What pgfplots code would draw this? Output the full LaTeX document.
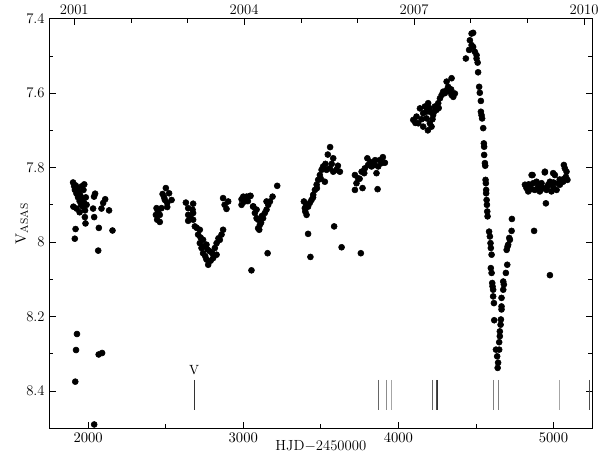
\documentclass[border=0pt]{standalone}
\usepackage{pgfplots}
\pgfplotsset{compat=1.18}
\usepackage{pgfplotstable}

% V light curve, HJD-2450000 vs V mag
\pgfplotstableread{
x y
1903 7.840
1910 7.850
1915 7.860
1920 7.848
1925 7.870
1930 7.855
1935 7.880
1940 7.865
1945 7.890
1950 7.875
1955 7.900
1960 7.885
1965 7.905
1970 7.860
1975 7.895
1980 7.915
1985 7.880
1990 7.900
1925 7.910
1945 7.920
1960 7.850
1975 7.845
1905 7.905
2032 7.910
2038 7.878
2045 7.870
2086 7.910
2097 7.895
2110 7.885
2135 7.915
1979 7.933
2039 7.933
1983 7.950
1919 7.965
2069 7.962
2157 7.969
1914 7.991
2065 8.023
1928 8.247
1922 8.290
2068 8.302
2090 8.298
1917 8.375
2039 8.490
2501 7.855
2480 7.871
2522 7.869
2495 7.887
2538 7.887
2510 7.895
2441 7.909
2473 7.909
2437 7.927
2462 7.927
2445 7.940
2462 7.946
2510 7.906
2490 7.880
2450 7.918
2630 7.894
2677 7.897
2645 7.909
2673 7.913
2645 7.927
2677 7.922
2660 7.935
2645 7.943
2677 7.940
2688 7.958
2720 7.967
2700 7.962
2709 7.980
2741 7.994
2725 7.988
2720 8.003
2763 8.007
2731 8.016
2745 8.012
2741 8.030
2785 8.025
2755 8.038
2763 8.047
2774 8.061
2790 8.050
2817 8.016
2828 8.034
2806 8.043
2800 8.030
2770 8.020
2828 8.003
2849 7.994
2860 7.980
2870 7.967
2840 7.990
2870 7.882
2903 7.891
2892 7.911
2880 7.900
2989 7.885
3021 7.878
3047 7.876
2989 7.900
3010 7.891
3064 7.904
3086 7.913
3086 7.936
3096 7.963
3000 7.878
3043 7.876
3064 7.905
3075 7.922
3096 7.940
3107 7.954
3103 7.967
3115 7.948
3128 7.936
3139 7.922
3150 7.913
3161 7.900
3172 7.891
3189 7.878
3150 7.891
3219 7.849
3157 8.030
3053 8.076
3030 7.890
3120 7.930
3391 7.891
3397 7.909
3408 7.927
3400 7.918
3418 7.905
3429 7.895
3440 7.887
3451 7.873
3462 7.860
3473 7.846
3483 7.833
3494 7.820
3505 7.806
3515 7.797
3537 7.806
3558 7.802
3580 7.811
3601 7.806
3623 7.811
3526 7.838
3545 7.765
3560 7.745
3580 7.775
3530 7.790
3570 7.790
3610 7.795
3418 7.978
3433 8.040
3586 7.958
3634 8.014
3758 8.030
3405 7.900
3450 7.880
3475 7.855
3500 7.830
3720 7.820
3741 7.829
3730 7.842
3720 7.860
3769 7.855
3763 7.811
3784 7.802
3805 7.793
3827 7.797
3848 7.793
3870 7.797
3892 7.788
3913 7.787
3866 7.858
3859 7.815
3800 7.775
3850 7.780
3900 7.772
3820 7.785
3880 7.780
3750 7.830
3780 7.815
4096 7.672
4117 7.663
4128 7.681
4139 7.641
4160 7.654
4182 7.668
4203 7.681
4214 7.690
4171 7.636
4192 7.627
4203 7.650
4224 7.659
4235 7.636
4246 7.645
4257 7.627
4268 7.614
4279 7.605
4289 7.596
4311 7.592
4321 7.583
4332 7.596
4343 7.605
4354 7.610
4364 7.601
4311 7.569
4343 7.560
4150 7.670
4180 7.650
4200 7.640
4220 7.670
4110 7.680
4230 7.650
4260 7.640
4300 7.600
4340 7.590
4160 7.690
4190 7.700
4435 7.507
4456 7.484
4461 7.458
4472 7.440
4482 7.438
4472 7.471
4482 7.476
4493 7.489
4504 7.498
4504 7.507
4511 7.518
4514 7.544
4521 7.583
4525 7.599
4532 7.621
4532 7.650
4536 7.659
4540 7.668
4547 7.694
4551 7.735
4553 7.744
4553 7.766
4558 7.788
4560 7.795
4562 7.833
4564 7.842
4566 7.860
4566 7.869
4569 7.887
4571 7.900
4573 7.918
4575 7.931
4585 7.972
4590 7.985
4594 8.003
4596 8.016
4601 8.034
4596 8.070
4601 8.083
4605 8.110
4607 8.119
4611 8.128
4611 8.146
4616 8.164
4618 8.210
4629 8.289
4650 8.289
4637 8.307
4643 8.324
4640 8.338
4650 8.269
4654 8.253
4654 8.240
4659 8.222
4661 8.208
4665 8.181
4665 8.173
4665 8.150
4676 8.128
4680 8.114
4676 8.106
4693 8.083
4702 8.061
4698 8.021
4704 8.012
4708 8.007
4715 7.989
4719 7.994
4730 7.970
4732 7.938
4816 7.846
4826 7.855
4837 7.864
4848 7.851
4865 7.820
4869 7.842
4880 7.860
4891 7.838
4901 7.851
4912 7.864
4923 7.842
4933 7.855
4944 7.813
4951 7.896
4955 7.860
4966 7.846
4977 7.838
4987 7.864
4998 7.851
5009 7.820
5020 7.860
5030 7.842
5041 7.846
5052 7.833
5062 7.838
5067 7.793
5073 7.829
5084 7.811
5090 7.833
4859 7.820
4945 7.811
4998 7.815
5073 7.802
4875 7.970
4977 8.089
4840 7.845
4860 7.858
4905 7.845
4920 7.858
4960 7.852
5000 7.840
5040 7.832
5080 7.825
}\lightcurve

\begin{document}
\begin{tikzpicture}
\pgfplotsset{
  every axis/.append style={
    scale only axis, width=407pt, height=307pt,
    xmin=1750, xmax=5250, ymin=7.4, ymax=8.5, y dir=reverse,
    tick align=inside, major tick length=5pt, minor tick length=3pt,
    axis line style={line width=0.6pt},
    tick style={black, line width=0.5pt},
    tick label style={font=\fontsize{11}{12}\selectfont},
    label style={font=\fontsize{11}{12}\selectfont},
  }
}
\begin{axis}[
    xtick={2000,3000,4000,5000},
    minor xtick={2500,3500,4500},
    xtick pos=left,
    ytick={7.4,7.6,7.8,8,8.2,8.4},
    minor ytick={7.5,7.7,7.9,8.1,8.3},
    yticklabels={7.4,7.6,7.8,8,8.2,8.4},
    xlabel={HJD$-$2450000},
    ylabel={$\mathrm{V}_{\mathrm{ASAS}}$},
    xlabel style={yshift=8pt},
    ylabel style={yshift=-8pt},
    scaled x ticks=false,
    xticklabel style={/pgf/number format/set thousands separator={}},
  ]
\addplot[only marks, mark=*, mark size=2.25pt, black] table[x=x, y=y] {\lightcurve};
% spectra epochs
\addplot[black!80, line width=0.5pt] coordinates {(2683,8.37) (2683,8.45)};
\addplot[black!60, line width=0.8pt] coordinates {(3871,8.37) (3871,8.45)};
\addplot[black!45, line width=0.8pt] coordinates {(3922,8.37) (3922,8.45)};
\addplot[black!35, line width=0.8pt] coordinates {(3955,8.37) (3955,8.45)};
\addplot[black!60, line width=0.8pt] coordinates {(4222,8.37) (4222,8.45)};
\addplot[black!70, line width=0.8pt] coordinates {(4244,8.37) (4244,8.45)};
\addplot[black!80, line width=0.8pt] coordinates {(4255,8.37) (4255,8.45)};
\addplot[black!50, line width=0.6pt] coordinates {(4611,8.37) (4611,8.45)};
\addplot[black!50, line width=0.6pt] coordinates {(4644,8.37) (4644,8.45)};
\addplot[black!35, line width=0.8pt] coordinates {(5041,8.37) (5041,8.45)};
\addplot[black!70, line width=0.6pt] coordinates {(5230,8.37) (5230,8.45)};
\node[font=\fontsize{10}{11}\selectfont, anchor=south] at (axis cs:2683,8.368) {V};
\end{axis}
% calendar years along the top
\begin{axis}[
    xtick pos=right, xticklabel pos=right,
    xtick={1910.5,3005.5,4101.5,5197.5},
    xticklabels={2001,2004,2007,2010},
    minor xtick={2275.5,2640.5,3371.5,3736.5,4466.5,4832.5},
    ytick=\empty,
    xticklabel style={yshift=-1pt},
  ]
\end{axis}
\pgfresetboundingbox
\path[use as bounding box] ([shift={(-37pt,-24pt)}]current axis.south west)
  rectangle ([shift={(5.8pt,14pt)}]current axis.north east);
\end{tikzpicture}
\end{document}
